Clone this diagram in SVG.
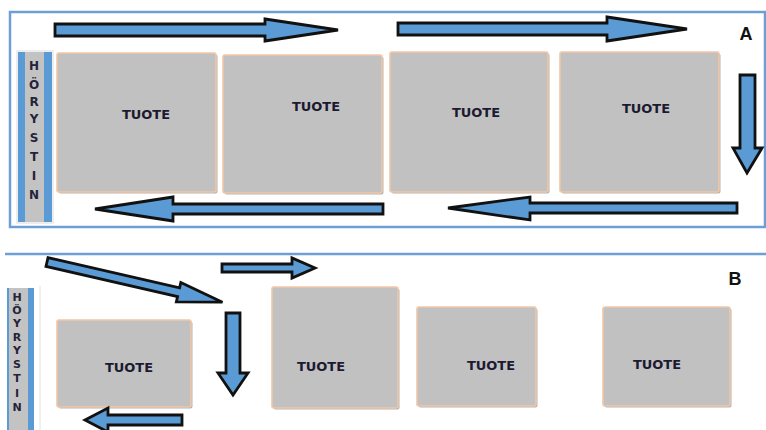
<svg xmlns="http://www.w3.org/2000/svg" width="766" height="430" viewBox="0 0 766 430">
  <defs>
    <style>
      .frame { fill: none; stroke: #6d9fd6; stroke-width: 2.5; }
      .box { fill: #c1c1c1; stroke: #f1c6a6; stroke-width: 1.6; }
      .shade { fill: #b3b3b3; }
      .label { font-family: "DejaVu Sans", "Liberation Sans", sans-serif; font-weight: bold; font-size: 13px; fill: #1c1a30; text-anchor: middle; }
      .strip-blue { fill: #5b9bd5; }
      .strip-gray { fill: #c3c3c3; }
      .letter { font-family: "DejaVu Sans", "Liberation Sans", sans-serif; font-weight: bold; font-size: 12px; fill: #25233a; text-anchor: middle; }
      .letter-b { font-family: "DejaVu Sans", "Liberation Sans", sans-serif; font-weight: bold; font-size: 11px; fill: #25233a; text-anchor: middle; }
      .tag { font-family: "Liberation Sans", Arial, sans-serif; font-weight: bold; font-size: 18px; fill: #111; text-anchor: middle; }
      .arrow { fill: #5b9bd5; stroke: #111; stroke-width: 2.8; stroke-linejoin: miter; }
    </style>
  </defs>

  <rect width="766" height="430" fill="#ffffff"/>

  <!-- Layout A: closed loop frame -->
  <g id="frame-a">
    <rect class="frame" x="10" y="12" width="755" height="215"/>
  </g>

  <!-- Layout B: open top rule -->
  <g id="frame-b">
    <line x1="5" y1="254" x2="766" y2="254" stroke="#6d9fd6" stroke-width="2.5"/>
    <line x1="40" y1="286" x2="40" y2="430" stroke="#e2e2e2" stroke-width="1"/>
  </g>

  <!-- Heater strip, layout A -->
  <g id="heater-a">
    <rect x="17" y="51" width="36" height="172" fill="#ffffff" stroke="#dcdcdc" stroke-width="1"/>
    <rect class="strip-blue" x="18" y="52" width="34" height="170"/>
    <rect class="strip-gray" x="25" y="52" width="19" height="170"/>
    <text class="letter" x="34" y="70">H</text>
    <text class="letter" x="34" y="89">Ö</text>
    <text class="letter" x="34" y="106">R</text>
    <text class="letter" x="34" y="123">Y</text>
    <text class="letter" x="34" y="142">S</text>
    <text class="letter" x="34" y="161">T</text>
    <text class="letter" x="34" y="180">I</text>
    <text class="letter" x="34" y="199">N</text>
  </g>

  <!-- Heater strip, layout B -->
  <g id="heater-b">
    <rect class="strip-blue" x="7" y="288" width="27" height="142"/>
    <rect class="strip-gray" x="9" y="288" width="19" height="142"/>
    <text class="letter-b" x="17" y="301">H</text>
    <text class="letter-b" x="17" y="314">Ö</text>
    <text class="letter-b" x="17" y="327">Y</text>
    <text class="letter-b" x="17" y="341">R</text>
    <text class="letter-b" x="17" y="354">Y</text>
    <text class="letter-b" x="17" y="368">S</text>
    <text class="letter-b" x="17" y="382">T</text>
    <text class="letter-b" x="17" y="397">I</text>
    <text class="letter-b" x="17" y="411">N</text>
  </g>

  <!-- Products, layout A -->
  <g id="tuote-a1">
    <rect class="shade" x="58.5" y="54.5" width="159" height="139" rx="2"/>
    <rect class="box" x="57" y="53" width="159" height="139" rx="2"/>
    <text class="label" x="146" y="119">TUOTE</text>
  </g>
  <g id="tuote-a2">
    <rect class="shade" x="224.5" y="56.5" width="159" height="138" rx="2"/>
    <rect class="box" x="223" y="55" width="159" height="138" rx="2"/>
    <text class="label" x="316" y="111">TUOTE</text>
  </g>
  <g id="tuote-a3">
    <rect class="shade" x="391.5" y="53.5" width="158" height="140" rx="2"/>
    <rect class="box" x="390" y="52" width="158" height="140" rx="2"/>
    <text class="label" x="476" y="117">TUOTE</text>
  </g>
  <g id="tuote-a4">
    <rect class="shade" x="561.5" y="53.5" width="159" height="140" rx="2"/>
    <rect class="box" x="560" y="52" width="159" height="140" rx="2"/>
    <text class="label" x="646" y="113">TUOTE</text>
  </g>

  <!-- Products, layout B -->
  <g id="tuote-b1">
    <rect class="shade" x="58.5" y="321.5" width="134" height="87" rx="2"/>
    <rect class="box" x="57" y="320" width="134" height="87" rx="2"/>
    <text class="label" x="129" y="372">TUOTE</text>
  </g>
  <g id="tuote-b2">
    <rect class="shade" x="273.5" y="288.5" width="126" height="121" rx="2"/>
    <rect class="box" x="272" y="287" width="126" height="121" rx="2"/>
    <text class="label" x="321" y="371">TUOTE</text>
  </g>
  <g id="tuote-b3">
    <rect class="shade" x="418.5" y="308.5" width="119" height="99" rx="2"/>
    <rect class="box" x="417" y="307" width="119" height="99" rx="2"/>
    <text class="label" x="491" y="370">TUOTE</text>
  </g>
  <g id="tuote-b4">
    <rect class="shade" x="604.5" y="308.5" width="127" height="99" rx="2"/>
    <rect class="box" x="603" y="307" width="127" height="99" rx="2"/>
    <text class="label" x="657" y="369">TUOTE</text>
  </g>

  <!-- Layout tags -->
  <g id="tag-a"><text class="tag" x="746" y="40">A</text></g>
  <g id="tag-b"><text class="tag" x="735" y="285">B</text></g>

  <!-- Air-flow arrows -->
  <g id="connectors">
    <!-- layout A loop -->
    <polygon class="arrow" points="55,24 265,24 265,19 338,30 265,41 265,36 55,36"/>
    <polygon class="arrow" points="398,23 607,23 607,17 687,29 607,41 607,35 398,35"/>
    <polygon class="arrow" points="740,75 755,75 755,148 762,148 747,173 733,148 740,148"/>
    <polygon class="arrow" points="737,203 530,203 530,197 448,208 530,220 530,213 737,213"/>
    <polygon class="arrow" points="383,204 173,204 173,197 95,209 173,221 173,214 383,214"/>
    <!-- layout B path -->
    <polygon class="arrow" transform="translate(47,262) rotate(12.9)" points="0,-4.5 135,-4.5 135,-10 180,0 135,10 135,4.5 0,4.5"/>
    <polygon class="arrow" points="222,264 292,264 292,258 315,268 292,278 292,272 222,272"/>
    <polygon class="arrow" points="226,313 240,313 240,373 248,373 233,395 218,373 226,373"/>
    <polygon class="arrow" points="182,415 108,415 108,408 85,420 108,432 108,425 182,425"/>
  </g>
</svg>
